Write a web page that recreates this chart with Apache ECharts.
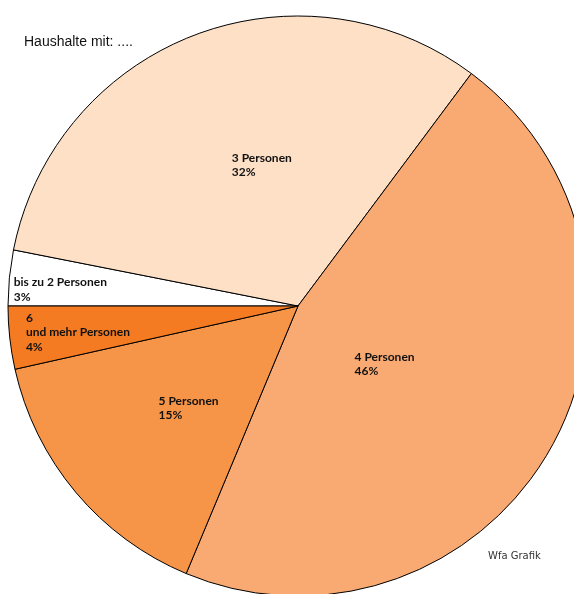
<!DOCTYPE html>
<html><head><meta charset="utf-8">
<script src="https://cdn.jsdelivr.net/npm/echarts@6/dist/echarts.min.js"></script>
<style>html,body{margin:0;padding:0;background:#fff}#c{width:574px;height:594px}</style>
</head><body><div id="c"></div>
<script>
const categories = ['bis zu 2 Personen', '3 Personen', '4 Personen', '5 Personen', '6\nund mehr Personen'];
const values = [3.1, 32.1, 46.1, 15.2, 3.5];
const colors = ['#ffffff', '#fde0c6', '#f9aa72', '#f69448', '#f47b22'];
const labelShift = [[-137, -2], [-13, -3], [-72, -15], [-26, 7], [-125, 10]];

const chart = echarts.init(document.getElementById('c'), null, {renderer: 'canvas'});
chart.setOption({
  animation: false,
  backgroundColor: '#fff',
  graphic: [
    {type: 'text', left: 24, top: 35, style: {text: 'Haushalte mit: ....', font: '14px "Liberation Sans", Arial, sans-serif', fill: '#111'}},
    {type: 'text', left: 488, top: 551, style: {text: 'Wfa Grafik', font: '10px "DejaVu Sans", sans-serif', fill: '#333'}}
  ],
  series: [{
    type: 'pie',
    center: [298, 306],
    radius: 290,
    startAngle: 180,
    clockwise: true,
    avoidLabelOverlap: false,
    label: {
      show: true,
      position: 'inside',
      formatter: p => p.name + '\n' + Math.round(p.value) + '%',
      fontFamily: 'Lato, "Open Sans", sans-serif',
      fontWeight: 'bold',
      fontSize: 12,
      lineHeight: 14.5,
      color: '#111'
    },
    labelLayout: p => ({align: 'left', verticalAlign: 'middle', dx: labelShift[p.dataIndex][0], dy: labelShift[p.dataIndex][1]}),
    labelLine: {show: false},
    itemStyle: {borderColor: '#000', borderWidth: 1},
    emphasis: {disabled: true},
    data: categories.map((c, i) => ({name: c, value: values[i], itemStyle: {color: colors[i]}}))
  }]
});
</script>
</body></html>
